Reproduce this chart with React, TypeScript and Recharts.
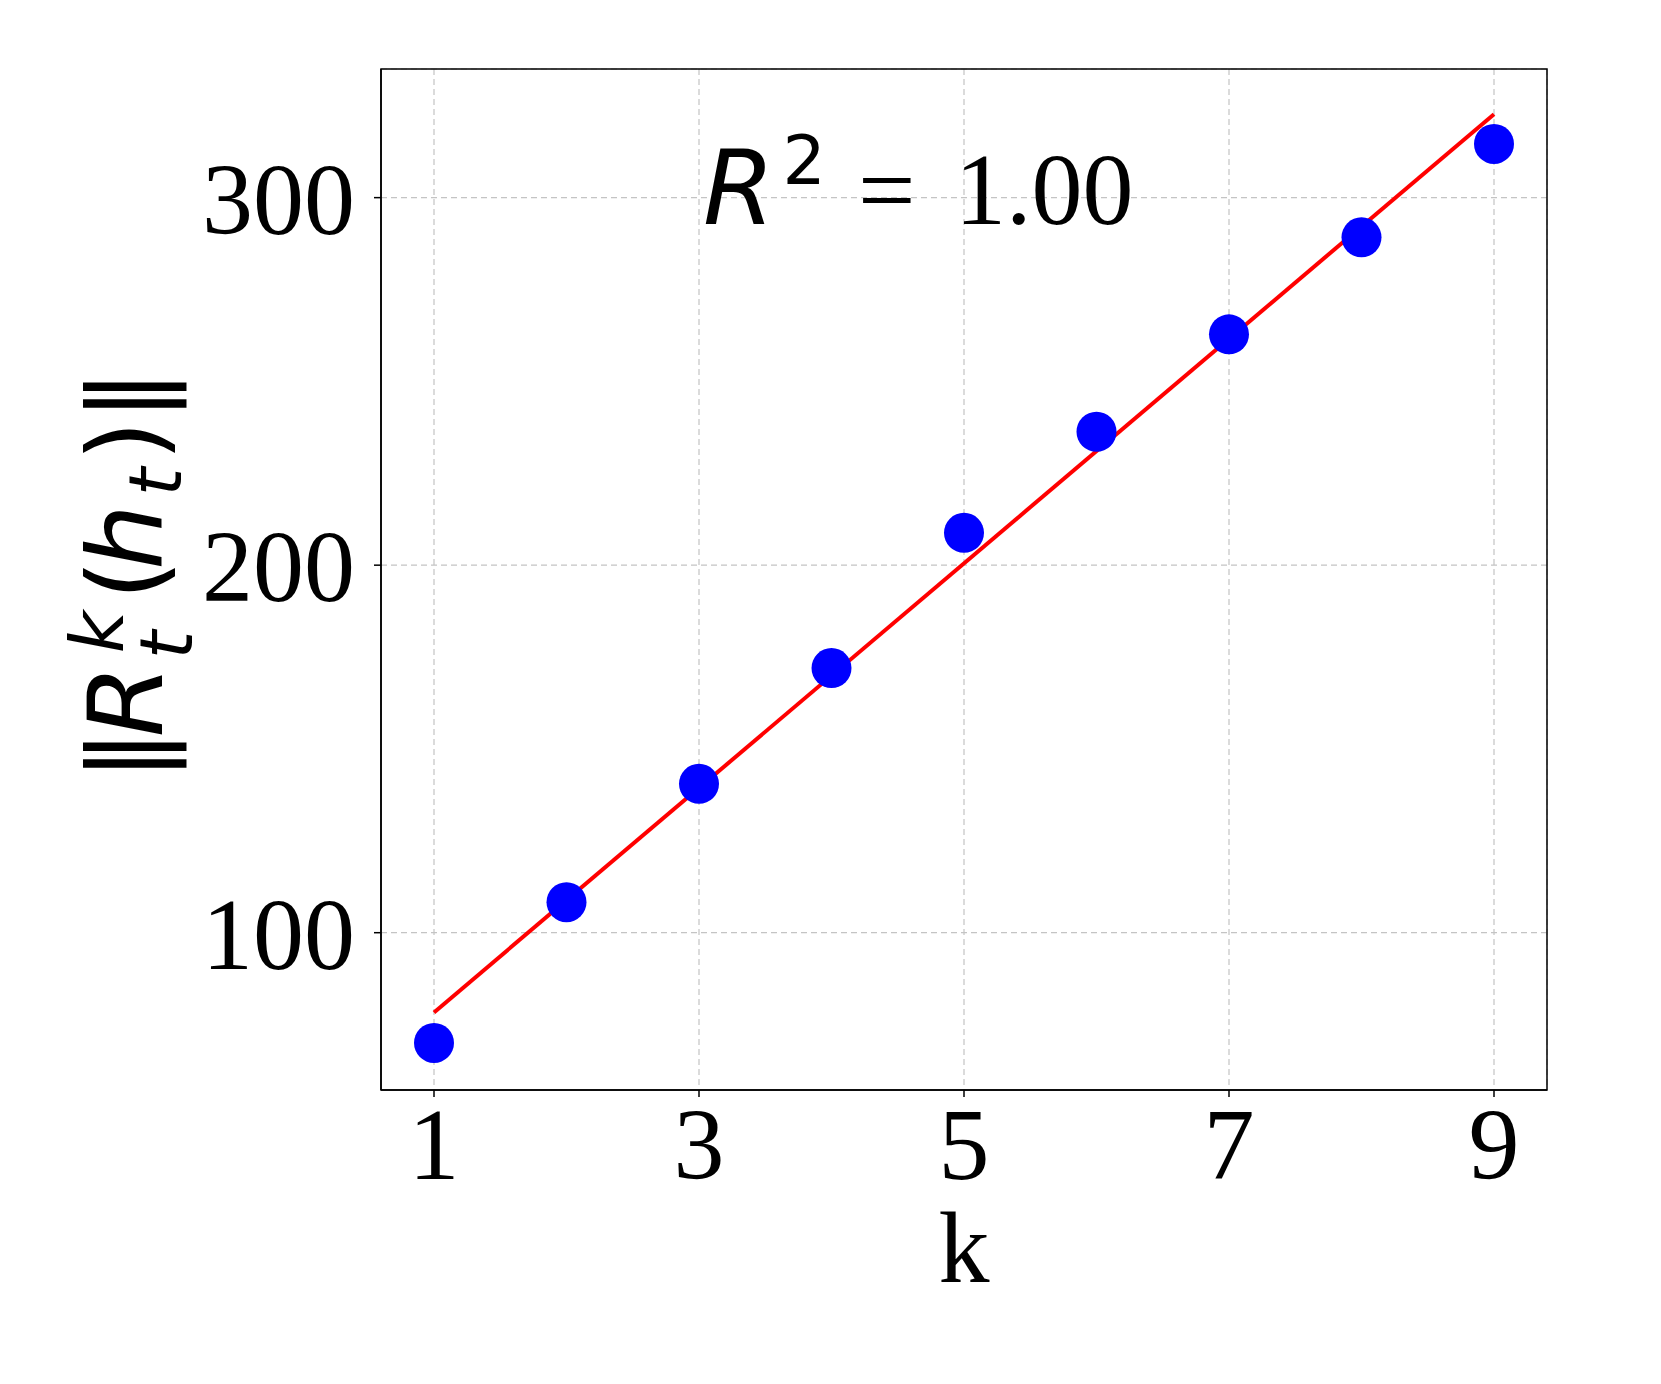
import React from 'react'
import {
  ComposedChart, Scatter, Line, XAxis, YAxis, CartesianGrid, ReferenceArea,
} from 'recharts'

// values
const kValues = [1, 2, 3, 4, 5, 6, 7, 8, 9]
const normValues = [70, 108.3, 140.5, 172, 208.8, 236.3, 262.8, 289.2, 314.6]
const fitK = [1, 9]
const fitValues = [78.3, 322.7]
const xTicks = [1, 3, 5, 7, 9]
const yTicks = [100, 200, 300]
const r2Text = '1.00'

const points = kValues.map((k, i) => ({ k, v: normValues[i] }))
const fit = fitK.map((k, i) => ({ k, fit: fitValues[i] }))

const SERIF = '"Liberation Serif", "Times New Roman", serif'
const SANS = '"DejaVu Sans", sans-serif'

const Dot = (props: any) => {
  const { cx, cy } = props
  if (cx == null || cy == null) return null
  return <circle cx={cx} cy={cy} r={20} fill="#0000ff" />
}

// rotated frame: x = -pageY, y = pageX
const YLabel = () => (
  <g transform="rotate(-90)" fontFamily={SANS} fill="#000" textAnchor="middle">
    <text x={-755} y={162} fontSize={104}>‖</text>
    <text x={-701} y={162} fontSize={104} fontStyle="oblique">R</text>
    <text x={-632} y={123} fontSize={73} fontStyle="oblique">k</text>
    <text x={-645} y={192} fontSize={73} fontStyle="oblique">t</text>
    <text x={-580} y={162} fontSize={104}>(</text>
    <text x={-537} y={162} fontSize={104} fontStyle="oblique">h</text>
    <text x={-482} y={181} fontSize={73} fontStyle="oblique">t</text>
    <text x={-441} y={162} fontSize={104}>)</text>
    <text x={-395} y={162} fontSize={104}>‖</text>
  </g>
)

const XLabel = () => (
  <text x={964} y={1282} textAnchor="middle" fontFamily={SERIF} fontSize={102} fill="#000">
    k
  </text>
)

export default function App() {
  return (
    <div style={{ position: 'absolute', left: 0, top: 0, width: 1661, height: 1384, background: '#fff' }}>
      <ComposedChart width={1661} height={1384} margin={{ top: 69, right: 114, bottom: 0, left: 0 }}>
        <CartesianGrid stroke="#c4c4c4" strokeDasharray="6 4" strokeWidth={1.2} />
        <XAxis
          type="number"
          dataKey="k"
          domain={[0.6, 9.4]}
          ticks={xTicks}
          allowDataOverflow
          height={294}
          tickSize={7}
          tickMargin={10}
          axisLine={{ stroke: '#000', strokeWidth: 1.5 }}
          tickLine={{ stroke: '#000', strokeWidth: 1.5 }}
          tick={{ fontFamily: SERIF, fontSize: 102, fill: '#000' }}
          label={{ content: XLabel }}
        />
        <YAxis
          type="number"
          domain={[57.2, 335]}
          ticks={yTicks}
          allowDataOverflow
          width={381}
          tickSize={7}
          tickMargin={19}
          axisLine={{ stroke: '#000', strokeWidth: 1.5 }}
          tickLine={{ stroke: '#000', strokeWidth: 1.5 }}
          tick={{ fontFamily: SERIF, fontSize: 102, fill: '#000' }}
          label={{ content: YLabel }}
        />
        <ReferenceArea x1={0.6} x2={9.4} y1={57.2} y2={335} fill="none" stroke="#000" strokeWidth={1.5} />
        <Scatter data={points} dataKey="v" shape={Dot} isAnimationActive={false} />
        <Line data={fit} dataKey="fit" stroke="#ff0000" strokeWidth={4} dot={false} isAnimationActive={false} />
        <text x={703} y={224} fill="#000">
          <tspan fontFamily={SANS} fontStyle="oblique" fontSize={103}>R</tspan>
          <tspan fontFamily={SANS} fontSize={68} dx={8} dy={-40}>2</tspan>
          <tspan x={858} dy={40} fontFamily={SERIF} fontSize={102}>=</tspan>
          <tspan x={955} fontFamily={SERIF} fontSize={102}>{r2Text}</tspan>
        </text>
      </ComposedChart>
    </div>
  )
}
